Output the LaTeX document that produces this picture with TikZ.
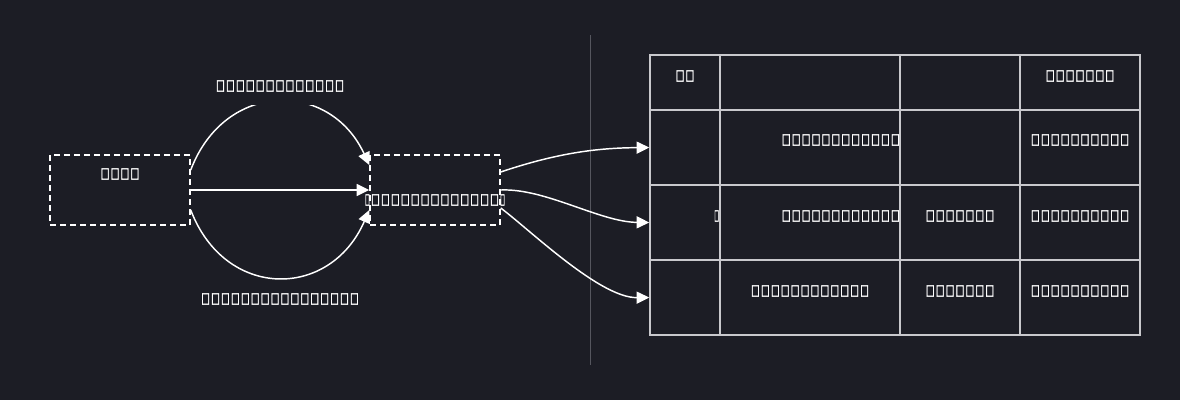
\documentclass[tikz,border=0pt]{standalone}
\usepackage{fontspec}
\newfontfamily\tofufont{DejaVu Sans}[FakeBold=3]
\usetikzlibrary{positioning,calc,arrows.meta}
\definecolor{bgdark}{RGB}{28,29,37}
\definecolor{gridgray}{RGB}{200,200,204}
\definecolor{sepgray}{RGB}{85,86,94}
\newcommand{\tofuglyph}{\makebox[7.44pt]{\resizebox*{6.3pt}{8.6pt}{□}}}
\newcommand{\thinglyph}{\makebox[4.6pt]{\resizebox*{3.3pt}{8.6pt}{□}}}
\newcommand{\tofu}[1]{\foreach \k in {1,...,#1}{\tofuglyph}}
\begin{document}
\begin{tikzpicture}[x=0.75pt, y=-0.75pt, >={Triangle[length=9.5pt,width=9pt]},
  flow/.style={draw=white, line width=1.1pt, ->},
  dashbox/.style={draw=white, dash pattern=on 4.5pt off 3pt, line width=1.1pt,
    minimum width=105pt, minimum height=52.5pt, inner sep=0pt},
  tofu/.style={text=white, inner sep=0pt, yshift=-0.75pt, font=\tofufont\bfseries\fontsize{12.4pt}{14pt}\selectfont},
  cell/.style={draw=gridgray, line width=1.1pt, inner sep=0pt}]

% Background
\fill[bgdark] (0,0) rectangle (1180,400);

% Boxes
\node[dashbox] (src) at (120,190) {};
\node[tofu] (srclbl) at (120,173) {\tofu{4}};
\node[dashbox, minimum width=97.5pt] (mid) at (435,190) {};
\node[tofu] (midlbl) at (435,199) {\thinglyph\tofu{13}\thinglyph};

% Connections
\draw[flow] ($(src.east)+(0,-20)$) .. controls (225,80) and (330,80) .. ($(mid.west)+(0,-25)$);
\draw[flow] (src.east) -- (mid.west);
\draw[flow] ($(src.east)+(0,20)$) .. controls (225,300) and (330,300) .. ($(mid.west)+(0,20)$);

% Labels
\node[tofu, fill=bgdark, minimum height=27.75pt] (toplbl) at (280,85) {\tofu{13}};
\node[tofu] (botlbl) at (280,298) {\tofu{16}};

% Separator
\draw[sepgray, line width=0.75pt] (590,35) -- (590,365);

% Table
\foreach \row/\yc/\h in {0/82.5/55, 1/147.5/75, 2/222.5/75, 3/297.5/75}
  \foreach \col/\xc/\w in {1/685/70, 2/810/180, 3/960/120, 4/1080/120}
    \node[cell, minimum width=\w*0.75pt, minimum height=\h*0.75pt] (t\row\col) at (\xc,\yc) {};

\node[tofu] (h1) at (685,75) {\tofu{2}};
\node[tofu] (h4) at (1080,75) {\tofu{7}};
\node[tofu, anchor=west] (a2) at (781,139) {\tofu{12}};
\node[tofu] (a4) at (1080,139) {\tofu{10}};
\node[tofu, anchor=east] (b1) at (720,215) {\thinglyph};
\node[tofu, anchor=west] (b2) at (781,215) {\tofu{12}};
\node[tofu] (b3) at (960,215) {\tofu{7}};
\node[tofu] (b4) at (1080,215) {\tofu{10}};
\node[tofu] (c2) at (810,290) {\tofu{12}};
\node[tofu] (c3) at (960,290) {\tofu{7}};
\node[tofu] (c4) at (1080,290) {\tofu{10}};

% Links to table
\draw[flow] ($(mid.east)+(0,-18)$) .. controls (560,152) and (600,148) .. (t11.west);
\draw[flow] (mid.east) .. controls (545,188) and (600,222) .. (t21.west);
\draw[flow] ($(mid.east)+(0,18)$) .. controls (530,230) and (600,298) .. (t31.west);

\end{tikzpicture}
\end{document}
